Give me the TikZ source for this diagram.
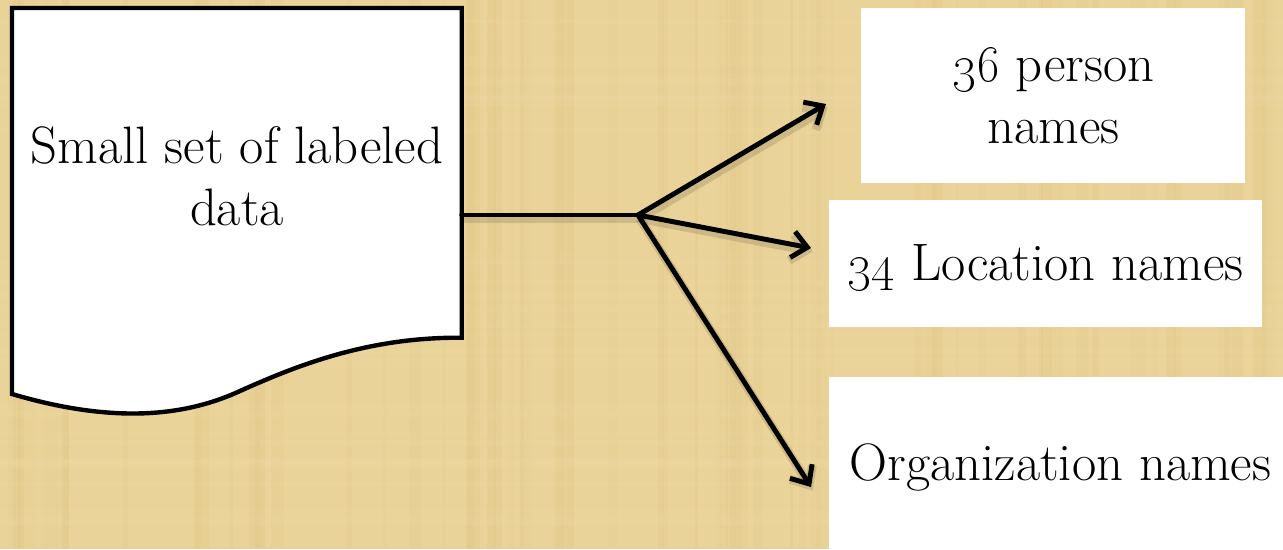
\documentclass[tikz,border=0pt]{standalone}
\usetikzlibrary{arrows.meta}
\definecolor{papyrus}{RGB}{234,211,152}
\definecolor{papyrusdark}{RGB}{214,186,118}
\definecolor{papyruslight}{RGB}{243,224,172}
\tikzset{
  stroke/.style={line width=2.5pt, draw=black},
  softshadow/.style={preaction={draw, black, opacity=0.12, line width=5pt,
      transform canvas={shift={(1pt,-2pt)}}}},
  link/.style={stroke, line width=2.8pt, softshadow, line cap=round},
  arrowlink/.style={link, -{Straight Barb[length=8.5pt,width=15pt]}},
  whitebox/.style={fill=white, draw=none, inner sep=0pt},
  boxtext/.style={align=center, font=\fontsize{30}{35}\selectfont}
}
\begin{document}
\begin{tikzpicture}[x=0.02cm, y=-0.02cm]
  % page background
  \useasboundingbox (0,0) rectangle (1283,549);
  \fill[papyrus] (0,0) rectangle (1283,549);
  % faint fibre streaks of the papyrus sheet
  \pgfmathsetseed{7}
  \foreach \i in {1,...,70}{
    \pgfmathsetmacro{\xa}{random(0,1270)}
    \pgfmathsetmacro{\wa}{random(3,14)}
    \pgfmathsetmacro{\op}{random(5,16)/100}
    \fill[papyrusdark, opacity=\op] (\xa,0) rectangle ++(\wa,549);
  }
  \foreach \i in {1,...,40}{
    \pgfmathsetmacro{\ya}{random(0,540)}
    \pgfmathsetmacro{\ha}{random(3,10)}
    \pgfmathsetmacro{\op}{random(5,14)/100}
    \fill[papyruslight, opacity=\op] (0,\ya) rectangle ++(1283,\ha);
  }

  % document shape
  \node[minimum width=449*0.02cm, minimum height=329*0.02cm, inner sep=0pt,
        anchor=north west] (doc) at (12,8) {};
  \coordinate (docfoot) at (12,394);
  \path[fill=white, stroke, line join=miter]
    (doc.south east) -- (doc.north east) -- (doc.north west) -- (docfoot)
    .. controls (120,426) and (190,414) .. (240,391)
    .. controls (300,364) and (370,337) .. (doc.south east) -- cycle;
  \node[boxtext] (doctext) at (237,176) {Small set of labeled\\data};

  % result boxes
  \node[whitebox, minimum width=384*0.02cm, minimum height=175*0.02cm,
        anchor=north west] (person) at (861,8) {};
  \node[boxtext] at (person.center) {\oldstylenums{36} person\\names};
  \node[whitebox, minimum width=433*0.02cm, minimum height=127*0.02cm,
        anchor=north west] (location) at (829,200) {};
  \node[boxtext] at ([yshift=-4*0.02cm]location.center) {\oldstylenums{34} Location names};
  \node[whitebox, minimum width=454*0.02cm, minimum height=172*0.02cm,
        anchor=north west] (org) at (829,377) {};
  \node[boxtext] at ([xshift=4*0.02cm,yshift=-4*0.02cm]org.center) {Organization names};

  % connectors
  \coordinate (hub) at (638,215);
  \coordinate (tipA) at (826,104);
  \coordinate (tipB) at (811,248);
  \coordinate (tipC) at (811,487);
  \draw[link] (doc.east |- hub) -- (hub);
  \draw[arrowlink] (hub) -- (tipA);
  \draw[arrowlink] (hub) -- (tipB);
  \draw[arrowlink] (hub) -- (tipC);
\end{tikzpicture}
\end{document}
